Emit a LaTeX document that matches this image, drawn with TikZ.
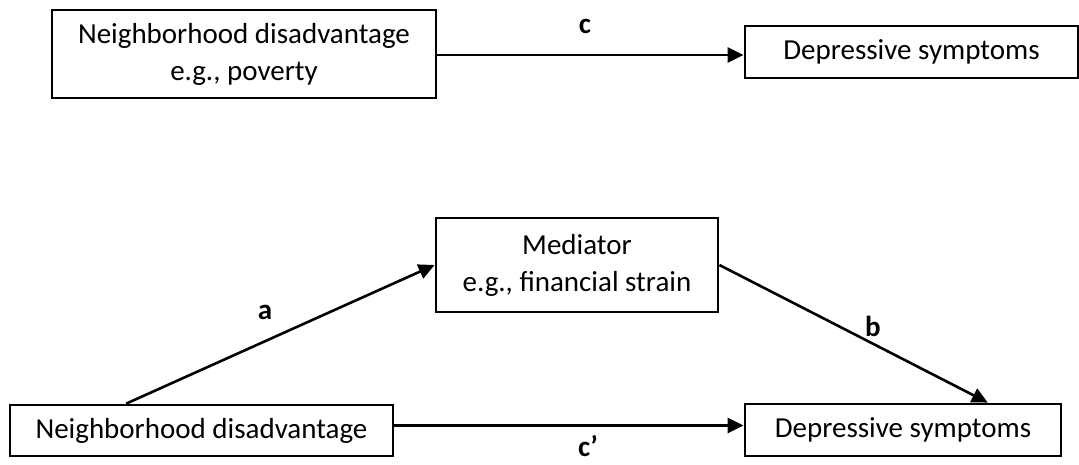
\documentclass[tikz,border=0pt]{standalone}
\usepackage{fontspec}
\setmainfont{Carlito}
\usetikzlibrary{arrows.meta,calc}
\begin{document}
\begin{tikzpicture}[x=1pt,y=-1pt,
  box/.style={draw,line width=2.8pt,rectangle,inner sep=0pt,align=center,font=\fontsize{29}{37}\selectfont},
  conn/.style={line width=2.6pt,-{Triangle[length=16pt,width=15pt]}},
  lab/.style={inner sep=0pt,font=\fontsize{29}{34}\selectfont\bfseries}]
\useasboundingbox (0,0) rectangle (1079,464);
\node[box,minimum width=384pt,minimum height=88pt] (tl) at (244,54) {Neighborhood disadvantage\\e.g., poverty};
\node[box,minimum width=333pt,minimum height=52pt] (tr) at (911.5,52) {Depressive symptoms};
\node[box,minimum width=282pt,minimum height=94pt] (med) at (577,265) {Mediator\\e.g., financial strain};
\node[box,minimum width=383pt,minimum height=51pt] (bl) at (201.5,430.5) {Neighborhood disadvantage};
\node[box,minimum width=316pt,minimum height=52pt] (br) at (903,430) {Depressive symptoms};
\draw[conn] ([yshift=-1pt]tl.east) -- ([yshift=-1pt]tl.east -| tr.west);
\draw[conn] ($(bl.north west)!0.305!(bl.north east)$) -- (med.west);
\draw[conn] (med.east) -- ($(br.north west)!0.766!(br.north east)$);
\draw[conn] ([yshift=5pt]bl.east) -- ([yshift=5pt]bl.east -| br.west);
\node[lab] (lc) at (585,26) {c};
\node[lab] (la) at (265,312) {a};
\node[lab] (lb) at (873,326) {b};
\node[lab] (lcp) at (588,446) {c’};
\end{tikzpicture}
\end{document}
